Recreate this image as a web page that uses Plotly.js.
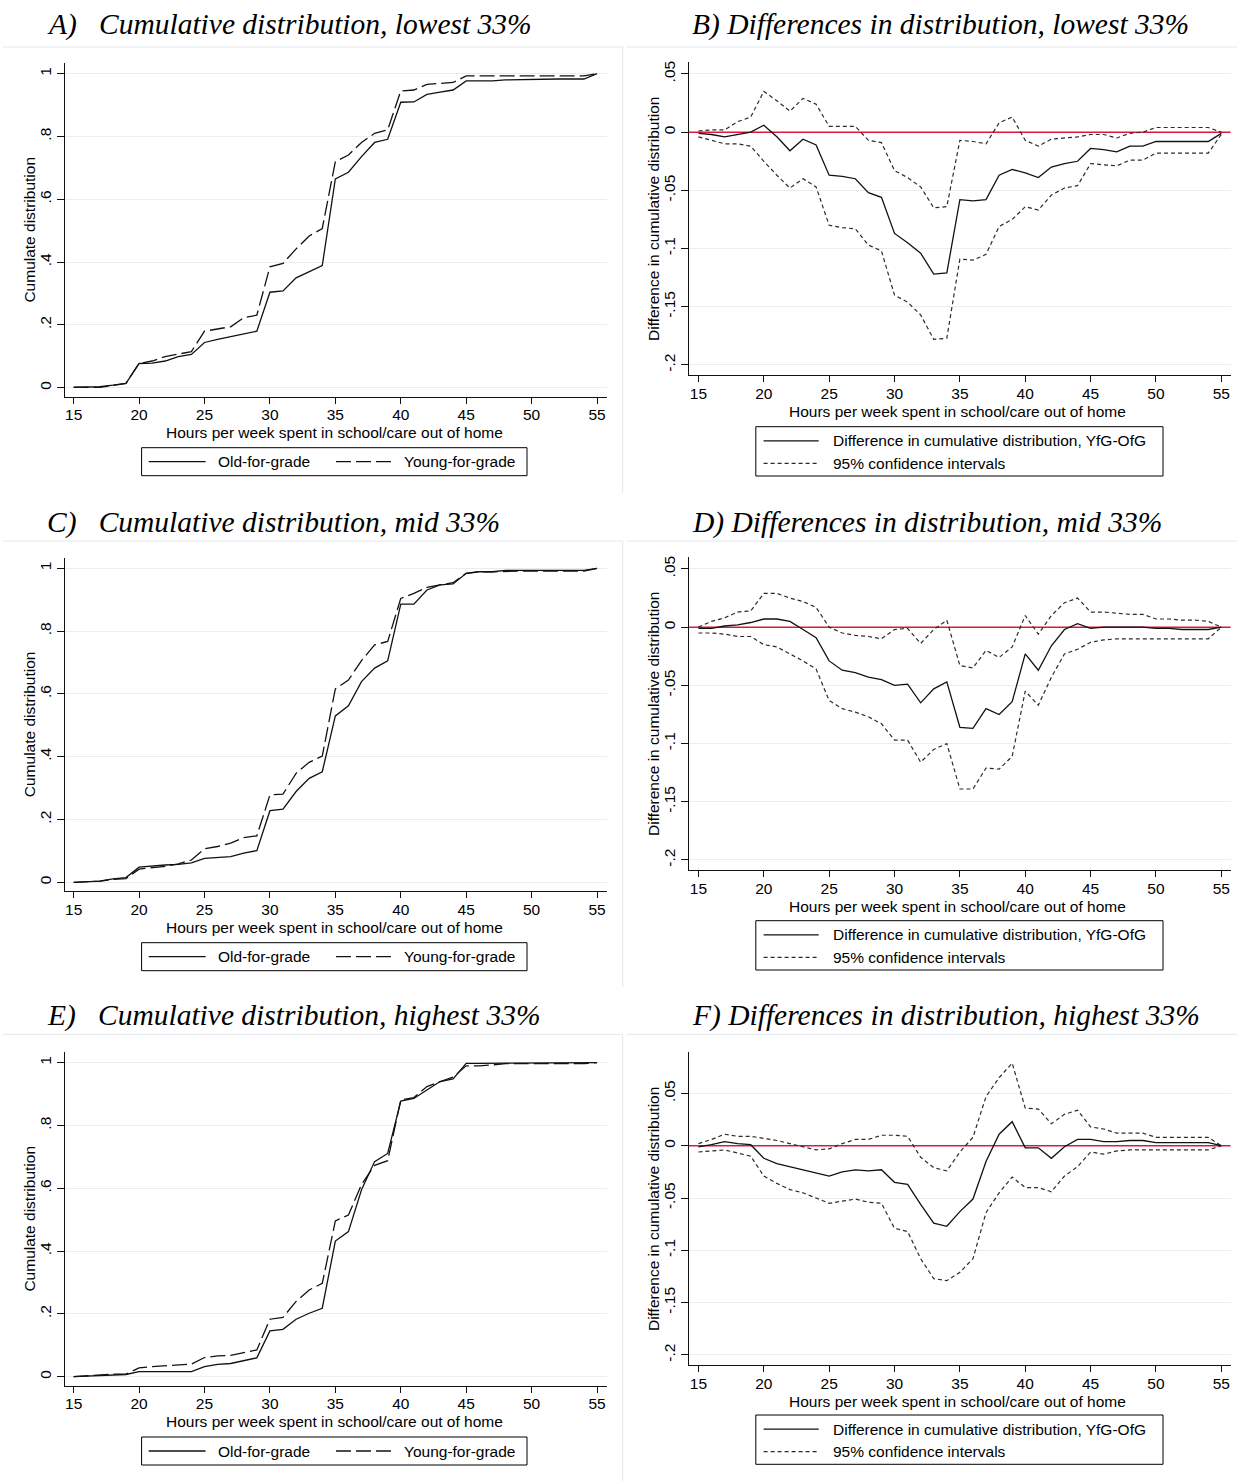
<!DOCTYPE html>
<html>
<head>
<meta charset="utf-8">
<script src="https://cdn.plot.ly/plotly-3.0.1.min.js"></script>
<style>
  html, body { margin: 0; padding: 0; background: #ffffff; }
  #chart { width: 1237px; height: 1481px; }
</style>
</head>
<body>
<div id="chart"></div>
<script>
// Hours per week spent in school/care out of home
const hours = [15,16,17,18,19,20,21,22,23,24,25,26,27,28,29,30,31,32,33,34,35,
               36,37,38,39,40,41,42,43,44,45,46,47,48,49,50,51,52,53,54,55];

// Panel A: cumulative distribution, lowest 33%
const lowOld   = [0.001,0.001,0.003,0.008,0.014,0.077,0.078,0.085,0.099,0.106,0.144,0.154,0.162,0.171,0.180,0.304,0.308,0.350,0.369,0.389,0.665,
                  0.686,0.736,0.781,0.791,0.909,0.910,0.934,0.941,0.948,0.977,0.977,0.977,0.980,0.981,0.983,0.983,0.983,0.983,0.983,1.000];
const lowYoung = [0.002,0.001,0.001,0.007,0.014,0.077,0.085,0.099,0.106,0.115,0.180,0.187,0.194,0.223,0.231,0.385,0.396,0.442,0.483,0.507,0.720,
                  0.741,0.781,0.810,0.821,0.945,0.948,0.966,0.969,0.972,0.993,0.993,0.993,0.993,0.993,0.993,0.993,0.993,0.993,0.993,1.000];

// Panel B: difference YfG-OfG, lowest 33%, with 95% CI
const lowDiff  = [-0.001,-0.002,-0.004,-0.002,0.000,0.006,-0.004,-0.016,-0.006,-0.011,-0.037,-0.038,-0.040,-0.052,-0.056,-0.087,-0.095,-0.104,-0.122,-0.121,-0.058,
                  -0.059,-0.058,-0.037,-0.032,-0.035,-0.039,-0.030,-0.027,-0.025,-0.014,-0.015,-0.017,-0.012,-0.012,-0.008,-0.008,-0.008,-0.008,-0.008,-0.001];
const lowUpper = [0.001,0.002,0.002,0.009,0.013,0.035,0.027,0.018,0.029,0.024,0.005,0.005,0.005,-0.007,-0.009,-0.033,-0.039,-0.047,-0.065,-0.064,-0.007,
                  -0.008,-0.010,0.008,0.013,-0.007,-0.012,-0.006,-0.005,-0.004,-0.002,-0.002,-0.005,-0.001,0.000,0.004,0.004,0.004,0.004,0.004,0.000];
const lowLower = [-0.004,-0.007,-0.010,-0.010,-0.012,-0.025,-0.037,-0.048,-0.040,-0.047,-0.080,-0.082,-0.083,-0.097,-0.102,-0.140,-0.146,-0.157,-0.178,-0.177,-0.109,
                  -0.110,-0.105,-0.081,-0.075,-0.064,-0.067,-0.054,-0.048,-0.046,-0.027,-0.028,-0.029,-0.024,-0.024,-0.018,-0.018,-0.018,-0.018,-0.018,-0.002];

// Panel C: cumulative distribution, mid 33%
const midOld   = [0.000,0.002,0.004,0.011,0.015,0.048,0.052,0.055,0.057,0.062,0.076,0.078,0.082,0.093,0.101,0.228,0.233,0.289,0.331,0.352,0.530,
                  0.562,0.639,0.682,0.705,0.886,0.886,0.931,0.947,0.950,0.984,0.989,0.989,0.993,0.993,0.993,0.993,0.993,0.993,0.993,1.000];
const midYoung = [0.000,0.002,0.004,0.009,0.012,0.042,0.046,0.051,0.059,0.071,0.107,0.114,0.125,0.142,0.148,0.278,0.281,0.347,0.382,0.402,0.616,
                  0.644,0.706,0.756,0.767,0.904,0.920,0.939,0.947,0.954,0.984,0.989,0.989,0.991,0.991,0.991,0.991,0.991,0.991,0.991,1.000];

// Panel D: difference YfG-OfG, mid 33%, with 95% CI
const midDiff  = [-0.001,-0.001,0.001,0.002,0.004,0.007,0.007,0.005,-0.002,-0.009,-0.029,-0.037,-0.039,-0.043,-0.045,-0.050,-0.049,-0.065,-0.053,-0.047,-0.086,
                  -0.087,-0.070,-0.075,-0.064,-0.023,-0.037,-0.016,-0.002,0.003,-0.001,0.000,0.000,0.000,0.000,-0.001,-0.001,-0.002,-0.002,-0.002,0.000];
const midUpper = [0.000,0.005,0.008,0.013,0.014,0.029,0.029,0.025,0.022,0.017,0.000,-0.005,-0.007,-0.008,-0.010,-0.002,-0.001,-0.014,-0.002,0.006,-0.033,
                  -0.035,-0.020,-0.026,-0.017,0.010,-0.006,0.010,0.021,0.025,0.013,0.013,0.012,0.011,0.011,0.007,0.007,0.006,0.006,0.005,0.000];
const midLower = [-0.005,-0.005,-0.006,-0.008,-0.008,-0.015,-0.017,-0.023,-0.029,-0.036,-0.063,-0.070,-0.073,-0.077,-0.083,-0.097,-0.097,-0.116,-0.105,-0.100,-0.139,
                  -0.139,-0.121,-0.122,-0.111,-0.055,-0.067,-0.043,-0.023,-0.019,-0.013,-0.011,-0.010,-0.010,-0.010,-0.010,-0.010,-0.010,-0.010,-0.010,0.000];

// Panel E: cumulative distribution, highest 33%
const highOld   = [0.000,0.002,0.005,0.007,0.007,0.016,0.016,0.016,0.016,0.016,0.032,0.039,0.042,0.050,0.060,0.146,0.151,0.183,0.202,0.218,0.432,
                   0.462,0.595,0.685,0.711,0.878,0.886,0.913,0.940,0.948,0.998,0.998,0.998,0.998,0.998,0.998,0.998,0.998,0.998,0.998,1.000];
const highYoung = [0.000,0.003,0.007,0.008,0.008,0.028,0.032,0.034,0.037,0.040,0.061,0.066,0.068,0.077,0.085,0.183,0.189,0.240,0.276,0.297,0.496,
                   0.515,0.612,0.673,0.688,0.881,0.889,0.924,0.940,0.954,0.990,0.990,0.993,0.997,0.997,0.997,0.997,0.997,0.997,0.997,1.000];

// Panel F: difference YfG-OfG, highest 33%, with 95% CI
const highDiff  = [-0.001,0.001,0.004,0.002,0.001,-0.012,-0.017,-0.020,-0.023,-0.026,-0.029,-0.025,-0.023,-0.024,-0.023,-0.035,-0.037,-0.056,-0.074,-0.077,-0.063,
                   -0.051,-0.015,0.011,0.023,-0.002,-0.002,-0.012,-0.001,0.006,0.006,0.004,0.004,0.005,0.005,0.003,0.003,0.003,0.003,0.003,0.000];
const highUpper = [0.002,0.006,0.011,0.009,0.009,0.007,0.005,0.002,-0.001,-0.004,-0.003,0.002,0.006,0.006,0.010,0.010,0.009,-0.011,-0.021,-0.024,-0.006,
                   0.008,0.047,0.065,0.079,0.036,0.035,0.021,0.030,0.034,0.018,0.016,0.012,0.012,0.012,0.008,0.008,0.008,0.008,0.008,0.000];
const highLower = [-0.006,-0.005,-0.004,-0.007,-0.010,-0.029,-0.036,-0.042,-0.045,-0.050,-0.055,-0.053,-0.051,-0.054,-0.055,-0.079,-0.082,-0.108,-0.127,-0.129,-0.121,
                   -0.108,-0.064,-0.045,-0.030,-0.040,-0.040,-0.044,-0.029,-0.020,-0.006,-0.008,-0.005,-0.004,-0.004,-0.004,-0.004,-0.004,-0.004,-0.004,0.000];

// Tick labels
const hourTicks    = [15,20,25,30,35,40,45,50,55];
const cumTickVals  = [0,0.2,0.4,0.6,0.8,1];
const cumTickText  = ['0','.2','.4','.6','.8','1'];
const diffTickVals = [-0.2,-0.15,-0.1,-0.05,0,0.05];
const diffTickText = ['-.2','-.15','-.1','-.05','0','.05'];
const diffGridVals = [-0.2,-0.15,-0.1,-0.05,0.05];

// Text
const panelTitles = [
  'A)\u00a0\u00a0\u00a0Cumulative distribution, lowest 33%',
  'B) Differences in distribution, lowest 33%',
  'C)\u00a0\u00a0\u00a0Cumulative distribution, mid 33%',
  'D) Differences in distribution, mid 33%',
  'E)\u00a0\u00a0\u00a0Cumulative distribution, highest 33%',
  'F) Differences in distribution, highest 33%'
];
const xTitle       = 'Hours per week spent in school/care out of home';
const cumYTitle    = 'Cumulate distribution';
const diffYTitle   = 'Difference in cumulative distribution';
const cumLegend    = ['Old-for-grade', 'Young-for-grade'];
const diffLegend   = ['Difference in cumulative distribution, YfG-OfG', '95% confidence intervals'];

// ---------- page geometry (pixels on a 1237 x 1481 page) ----------
const W = 1237, H = 1481;
const px = v => v / W;
const py = v => 1 - v / H;

const SANS  = 'Liberation Sans, Arial, Helvetica, sans-serif';
const SERIF = 'Liberation Serif, Times New Roman, serif';
const INK   = '#111111';
const GRID  = '#e7edf3';
const FRAME = '#e2e8ef';
const RED   = '#dc1840';
const FS    = 15.5;

const LEFT_X  = [65, 606.6];
const RIGHT_X = [688.9, 1230.6];
const CUM_RANGE  = [-0.029, 1.034];
const DIFF_RANGE = [-0.2086, 0.0601];
const HIGH_DIFF_RANGE = [-0.2096, 0.0893];
const LEFT_XR  = [14.34, 55.73];
const RIGHT_XR = [14.27, 55.71];

// plot-area tops/bottoms in pixels for each panel
const plotY = {
  A: [63.0, 396.8],   B: [62.2, 375.0],
  C: [557.6, 891.4],  D: [557.2, 870.0],
  E: [1052.0, 1385.8], F: [1052.3, 1365.0]
};

function xAxis(pxRange, anchor, range) {
  return {
    domain: [px(pxRange[0]), px(pxRange[1])],
    anchor: anchor,
    range: range,
    tickvals: hourTicks,
    ticks: 'outside', ticklen: 6, tickwidth: 1, tickcolor: INK,
    ticklabelstandoff: -2,
    showline: true, linecolor: INK, linewidth: 1,
    showgrid: false, zeroline: false, fixedrange: true, automargin: false,
    tickfont: { family: SANS, size: FS, color: '#000' }
  };
}

function yAxis(pyRange, anchor, range, vals, text, isDiff) {
  const ax = {
    domain: [py(pyRange[1]), py(pyRange[0])],
    anchor: anchor,
    range: range,
    tickvals: vals, ticktext: text, tickangle: -90,
    ticks: 'outside', ticklen: 7, tickwidth: 1, tickcolor: INK,
    showline: true, linecolor: INK, linewidth: 1,
    showgrid: true, gridcolor: GRID, gridwidth: 1,
    zeroline: false, fixedrange: true, automargin: false,
    tickfont: { family: SANS, size: FS, color: '#000' }
  };
  if (isDiff) {
    // grid on every tick except zero, which carries the red reference line
    ax.showgrid = false;
    ax.minor = { tickmode: 'array', tickvals: diffGridVals, ticks: '',
                 showgrid: true, gridcolor: GRID, gridwidth: 1 };
  }
  return ax;
}

const solid = { color: INK, width: 1.3 };
const longDash = { color: INK, width: 1.3, dash: '15px,5px' };
const shortDash = { color: '#2b2b2b', width: 1.2, dash: '4px,3px' };

function line(x, y, xa, ya, name, style) {
  return { type: 'scatter', mode: 'lines', x: x, y: y, xaxis: xa, yaxis: ya,
           name: name, line: style, showlegend: false, hoverinfo: 'skip' };
}

const traces = [
  line(hours, lowOld,    'x',  'y',  cumLegend[0], solid),
  line(hours, lowYoung,  'x',  'y',  cumLegend[1], longDash),
  line(hours, lowUpper,  'x2', 'y2', diffLegend[1], shortDash),
  line(hours, lowLower,  'x2', 'y2', diffLegend[1], shortDash),
  line(hours, lowDiff,   'x2', 'y2', diffLegend[0], solid),
  line(hours, midOld,    'x3', 'y3', cumLegend[0], solid),
  line(hours, midYoung,  'x3', 'y3', cumLegend[1], longDash),
  line(hours, midUpper,  'x4', 'y4', diffLegend[1], shortDash),
  line(hours, midLower,  'x4', 'y4', diffLegend[1], shortDash),
  line(hours, midDiff,   'x4', 'y4', diffLegend[0], solid),
  line(hours, highOld,   'x5', 'y5', cumLegend[0], solid),
  line(hours, highYoung, 'x5', 'y5', cumLegend[1], longDash),
  line(hours, highUpper, 'x6', 'y6', diffLegend[1], shortDash),
  line(hours, highLower, 'x6', 'y6', diffLegend[1], shortDash),
  line(hours, highDiff,  'x6', 'y6', diffLegend[0], solid)
];

const layout = {
  width: W, height: H,
  margin: { l: 0, r: 0, t: 0, b: 0, pad: 0 },
  paper_bgcolor: '#ffffff', plot_bgcolor: '#ffffff',
  font: { family: SANS, size: FS, color: '#000' },
  showlegend: false,
  xaxis:  xAxis(LEFT_X,  'y',  LEFT_XR),
  xaxis2: xAxis(RIGHT_X, 'y2', RIGHT_XR),
  xaxis3: xAxis(LEFT_X,  'y3', LEFT_XR),
  xaxis4: xAxis(RIGHT_X, 'y4', RIGHT_XR),
  xaxis5: xAxis(LEFT_X,  'y5', LEFT_XR),
  xaxis6: xAxis(RIGHT_X, 'y6', RIGHT_XR),
  yaxis:  yAxis(plotY.A, 'x',  CUM_RANGE, cumTickVals, cumTickText, false),
  yaxis2: yAxis(plotY.B, 'x2', DIFF_RANGE, diffTickVals, diffTickText, true),
  yaxis3: yAxis(plotY.C, 'x3', CUM_RANGE, cumTickVals, cumTickText, false),
  yaxis4: yAxis(plotY.D, 'x4', DIFF_RANGE, diffTickVals, diffTickText, true),
  yaxis5: yAxis(plotY.E, 'x5', CUM_RANGE, cumTickVals, cumTickText, false),
  yaxis6: yAxis(plotY.F, 'x6', HIGH_DIFF_RANGE, diffTickVals, diffTickText, true),
  shapes: [],
  annotations: []
};

// red reference line at zero on the difference panels
['2', '4', '6'].forEach(k => {
  layout.shapes.push({
    type: 'line', xref: 'x' + k + ' domain', x0: 0, x1: 1,
    yref: 'y' + k, y0: 0, y1: 0,
    line: { color: RED, width: 1.5 }, layer: 'below'
  });
});

const textFont = { family: SANS, size: FS, color: '#000' };
function note(x, y, text, extra) {
  return Object.assign({ xref: 'paper', yref: 'paper', x: px(x), y: py(y),
    xanchor: 'left', yanchor: 'middle', showarrow: false, borderpad: 0,
    text: text, font: textFont }, extra || {});
}

// axis titles
const panelKeys = ['A', 'B', 'C', 'D', 'E', 'F'];
panelKeys.forEach((k, i) => {
  const col = i % 2;
  const xr = col === 0 ? LEFT_X : RIGHT_X;
  const yr = plotY[k];
  layout.annotations.push(note((xr[0] + xr[1]) / 2 + (col === 0 ? -1 : -2), yr[1] + 36, xTitle,
    { xanchor: 'center' }));
  layout.annotations.push(note(col === 0 ? 29.7 : 653.4, (yr[0] + yr[1]) / 2,
    col === 0 ? cumYTitle : diffYTitle, { xanchor: 'center', textangle: -90 }));
});

// light outline of each graph region
const rowTops = [47, 541, 1034.3];
const rowBottoms = [493, 987, 1481];
rowTops.forEach((t, i) => {
  layout.shapes.push({ type: 'line', xref: 'paper', yref: 'paper',
    x0: px(3), x1: px(622.7), y0: py(t), y1: py(t), line: { color: FRAME, width: 1 } });
  layout.shapes.push({ type: 'line', xref: 'paper', yref: 'paper',
    x0: px(622.7), x1: px(622.7), y0: py(t), y1: py(rowBottoms[i]), line: { color: FRAME, width: 1 } });
  layout.shapes.push({ type: 'line', xref: 'paper', yref: 'paper',
    x0: px(626.7), x1: px(1237), y0: py(t), y1: py(t), line: { color: FRAME, width: 1 } });
});

// panel headings
const titleY = [25.0, 522.5, 1015.8];
panelTitles.forEach((t, i) => {
  const row = Math.floor(i / 2), col = i % 2;
  layout.annotations.push({
    xref: 'paper', yref: 'paper', x: px(col === 0 ? 45 : 690), y: py(titleY[row]),
    xanchor: 'left', yanchor: 'middle', showarrow: false,
    text: '<i>' + t + '</i>',
    font: { family: SERIF, size: 29.5, color: '#000' }
  });
});

// legend keys for the cumulative panels (one row, two keys)
const cumBoxTop = [447.7, 942.7, 1437.0];
cumBoxTop.forEach(top => {
  const mid = top + 14;
  layout.shapes.push({ type: 'rect', xref: 'paper', yref: 'paper',
    x0: px(141.6), x1: px(527), y0: py(top + 28), y1: py(top),
    line: { color: '#000', width: 1 }, fillcolor: '#ffffff' });
  layout.shapes.push({ type: 'line', xref: 'paper', yref: 'paper',
    x0: px(148.7), x1: px(205.6), y0: py(mid), y1: py(mid), line: solid });
  layout.shapes.push({ type: 'line', xref: 'paper', yref: 'paper',
    x0: px(336), x1: px(392.6), y0: py(mid), y1: py(mid), line: longDash });
  layout.annotations.push(note(216.7, mid, cumLegend[0]));
  layout.annotations.push(note(403.3, mid, cumLegend[1]));
});

// legend keys for the difference panels (two rows)
const diffBoxTop = [426.7, 920.7, 1415.0];
diffBoxTop.forEach(top => {
  const r1 = top + 14.2, r2 = top + 36.6;
  layout.shapes.push({ type: 'rect', xref: 'paper', yref: 'paper',
    x0: px(755.8), x1: px(1163), y0: py(top + 49.3), y1: py(top),
    line: { color: '#000', width: 1 }, fillcolor: '#ffffff' });
  layout.shapes.push({ type: 'line', xref: 'paper', yref: 'paper',
    x0: px(763.6), x1: px(818.7), y0: py(r1), y1: py(r1), line: solid });
  layout.shapes.push({ type: 'line', xref: 'paper', yref: 'paper',
    x0: px(763.6), x1: px(818.7), y0: py(r2), y1: py(r2), line: shortDash });
  layout.annotations.push(note(831.7, r1, diffLegend[0]));
  layout.annotations.push(note(831.7, r2, diffLegend[1]));
});

Plotly.newPlot('chart', traces, layout, { displayModeBar: false, staticPlot: true });
</script>
</body>
</html>
